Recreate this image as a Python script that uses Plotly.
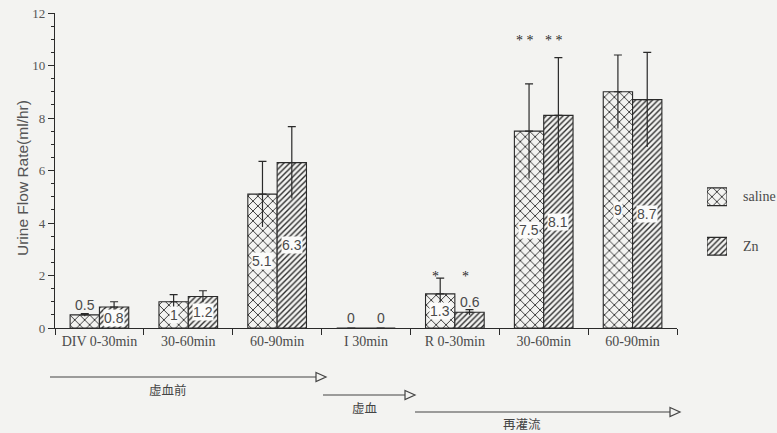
import plotly.graph_objects as go

# ---- data -------------------------------------------------------------
categories = ["DIV 0-30min", "30-60min", "60-90min", "I 30min",
              "R 0-30min", "30-60min", "60-90min"]
cat_keys = [f"c{i}" for i in range(len(categories))]  # labels repeat, keys must not

series_names = ["saline", "Zn"]
saline = [0.5, 1.0, 5.1, 0.0, 1.3, 7.5, 9.0]
saline_err = [0.05, 0.27, 1.25, 0.0, 0.6, 1.8, 1.4]
zn = [0.8, 1.2, 6.3, 0.0, 0.6, 8.1, 8.7]
zn_err = [0.2, 0.22, 1.37, 0.0, 0.1, 2.2, 1.8]

saline_marks = ["", "", "", "", "*", "* *", ""]
zn_marks = ["", "", "", "", "*", "* *", ""]
mark_level = 10.95
mark_level_low = 1.95

y_ticks = [0, 2, 4, 6, 8, 10, 12]

phases = ["虚血前", "虚血", "再灌流"]

# ---- styling ----------------------------------------------------------
W, H = 777, 433
BG = "#f3f3f1"
INK = "#2a2a2a"
TXT = "#4a4a4a"
SERIF = "Liberation Serif, Times New Roman, serif"
SANS = "Liberation Sans, Arial, sans-serif"
CJK = "Noto Sans CJK JP, sans-serif"
BARGAP = 0.34
HALF = (1 - BARGAP) / 4  # offset of each bar centre from category centre

PAT = {
    "saline": dict(shape="x", size=7, solidity=0.24, fgcolor=INK, bgcolor=BG, fillmode="replace"),
    "Zn": dict(shape="/", size=4, solidity=0.34, fgcolor=INK, bgcolor=BG, fillmode="replace"),
}


def px(x):
    return x / W


def py(y):
    return 1 - y / H


fig = go.Figure()

for name, vals, errs, group in [("saline", saline, saline_err, "s"),
                                ("Zn", zn, zn_err, "z")]:
    # the bar with its upper whisker and cap
    fig.add_trace(go.Bar(
        x=cat_keys, y=vals, name=name, offsetgroup=group,
        marker=dict(color=BG, line=dict(color=INK, width=1.1), pattern=PAT[name]),
        error_y=dict(type="data", array=errs, arrayminus=[0] * len(errs),
                     color=INK, thickness=1.2, width=4),
        showlegend=False, hoverinfo="skip",
    ))
    # lower whisker, no cap, drawn through the bar
    fig.add_trace(go.Bar(
        x=cat_keys, y=vals, offsetgroup=group,
        marker=dict(color="rgba(0,0,0,0)", line=dict(width=0)),
        error_y=dict(type="data", array=[0] * len(errs), arrayminus=errs,
                     color=INK, thickness=1.2, width=0),
        showlegend=False, hoverinfo="skip",
    ))

annotations = []

# value labels: inside the bar at mid height, above it when the bar is short
for vals, sign in [(saline, -1), (zn, 1)]:
    for i, v in enumerate(vals):
        inside = v >= 0.7
        annotations.append(dict(
            x=i + sign * HALF, y=v / 2 if inside else v + 0.38,
            xref="x", yref="y", xanchor="center", yanchor="middle",
            text=f"{v:g}", showarrow=False,
            font=dict(family=SANS, size=14, color=TXT),
            bgcolor="#fbfbfa" if inside else None, borderpad=0,
        ))

# significance marks
for marks, sign in [(saline_marks, -1), (zn_marks, 1)]:
    for i, m in enumerate(marks):
        if m:
            lvl = mark_level if m == "* *" else mark_level_low
            annotations.append(dict(
                x=i + sign * HALF - 0.05, y=lvl, xref="x", yref="y",
                xanchor="center", yanchor="middle", text=m,
                showarrow=False, font=dict(family=SERIF, size=14, color=INK),
            ))

# axis title
annotations.append(dict(
    x=px(22), y=py(178), xref="paper", yref="paper", xanchor="center", yanchor="middle",
    text="Urine Flow Rate(ml/hr)", textangle=-90, showarrow=False,
    font=dict(family=SANS, size=15.5, color="#555555"),
))

# legend key texts
for k, name in enumerate(series_names):
    annotations.append(dict(
        x=1, y=1 - k, xref="x2", yref="y2", xshift=14, xanchor="left", yanchor="middle",
        text=name, showarrow=False, font=dict(family=SERIF, size=14, color=TXT),
    ))

# legend keys as hatched boxes on a small hidden axis pair
fig.add_trace(go.Bar(
    x=[1, 1], y=[1, 0], base=0, orientation="h", width=0.36,
    xaxis="x2", yaxis="y2",
    marker=dict(color=BG, line=dict(color=INK, width=1.1), pattern=dict(
        shape=[PAT[n]["shape"] for n in series_names],
        size=[PAT[n]["size"] for n in series_names],
        solidity=[PAT[n]["solidity"] for n in series_names],
        fgcolor=INK, bgcolor=BG, fillmode="replace")),
    showlegend=False, hoverinfo="skip",
))

# phase arrows under the axis
shapes = []
arrows = [(50, 326, 377), (323, 415, 395), (415, 680, 412)]
label_pos = [(168, 389), (364, 407), (522, 423)]
for (x0, x1, y), (tx, ty), label in zip(arrows, label_pos, phases):
    shapes.append(dict(type="line", xref="paper", yref="paper",
                       x0=px(x0), x1=px(x1 - 10), y0=py(y), y1=py(y),
                       line=dict(color="#444444", width=1.2)))
    shapes.append(dict(type="path", xref="paper", yref="paper",
                       path=(f"M {px(x1 - 10)} {py(y - 4.5)} L {px(x1)} {py(y)} "
                             f"L {px(x1 - 10)} {py(y + 4.5)} Z"),
                       line=dict(color="#444444", width=1.2), fillcolor=BG))
    annotations.append(dict(x=px(tx), y=py(ty), xref="paper", yref="paper",
                            xanchor="center", yanchor="middle",
                            text=label, showarrow=False,
                            font=dict(family=CJK, size=12.5, color="#444444")))

fig.update_layout(
    width=W, height=H, margin=dict(l=0, r=0, t=0, b=0),
    paper_bgcolor=BG, plot_bgcolor=BG,
    barmode="group", bargap=BARGAP, bargroupgap=0,
    showlegend=False,
    annotations=annotations, shapes=shapes,
    xaxis=dict(
        domain=[px(55), px(677)], type="category", range=[-0.5, 6.5],
        tickmode="array", tickvals=cat_keys, ticktext=categories,
        tickson="boundaries", ticks="outside", ticklen=6, tickcolor=INK,
        showline=True, linecolor=INK, linewidth=1.2, showgrid=False,
        tickfont=dict(family=SERIF, size=14, color=TXT), automargin=False,
    ),
    yaxis=dict(
        domain=[py(328), py(13)], range=[0, 12], tickvals=y_ticks,
        ticks="outside", ticklen=6, tickcolor=INK,
        minor=dict(dtick=0.5, ticks="outside", ticklen=3, tickcolor=INK, showgrid=False),
        showline=True, linecolor=INK, linewidth=1.2, showgrid=False, zeroline=False,
        tickfont=dict(family=SERIF, size=13, color="#555555"), automargin=False,
    ),
    xaxis2=dict(domain=[px(707), px(727)], range=[0, 1], visible=False, fixedrange=True),
    yaxis2=dict(domain=[py(271), py(172)], range=[-0.5, 1.5], visible=False, fixedrange=True),
)

fig.write_html("out.html")
